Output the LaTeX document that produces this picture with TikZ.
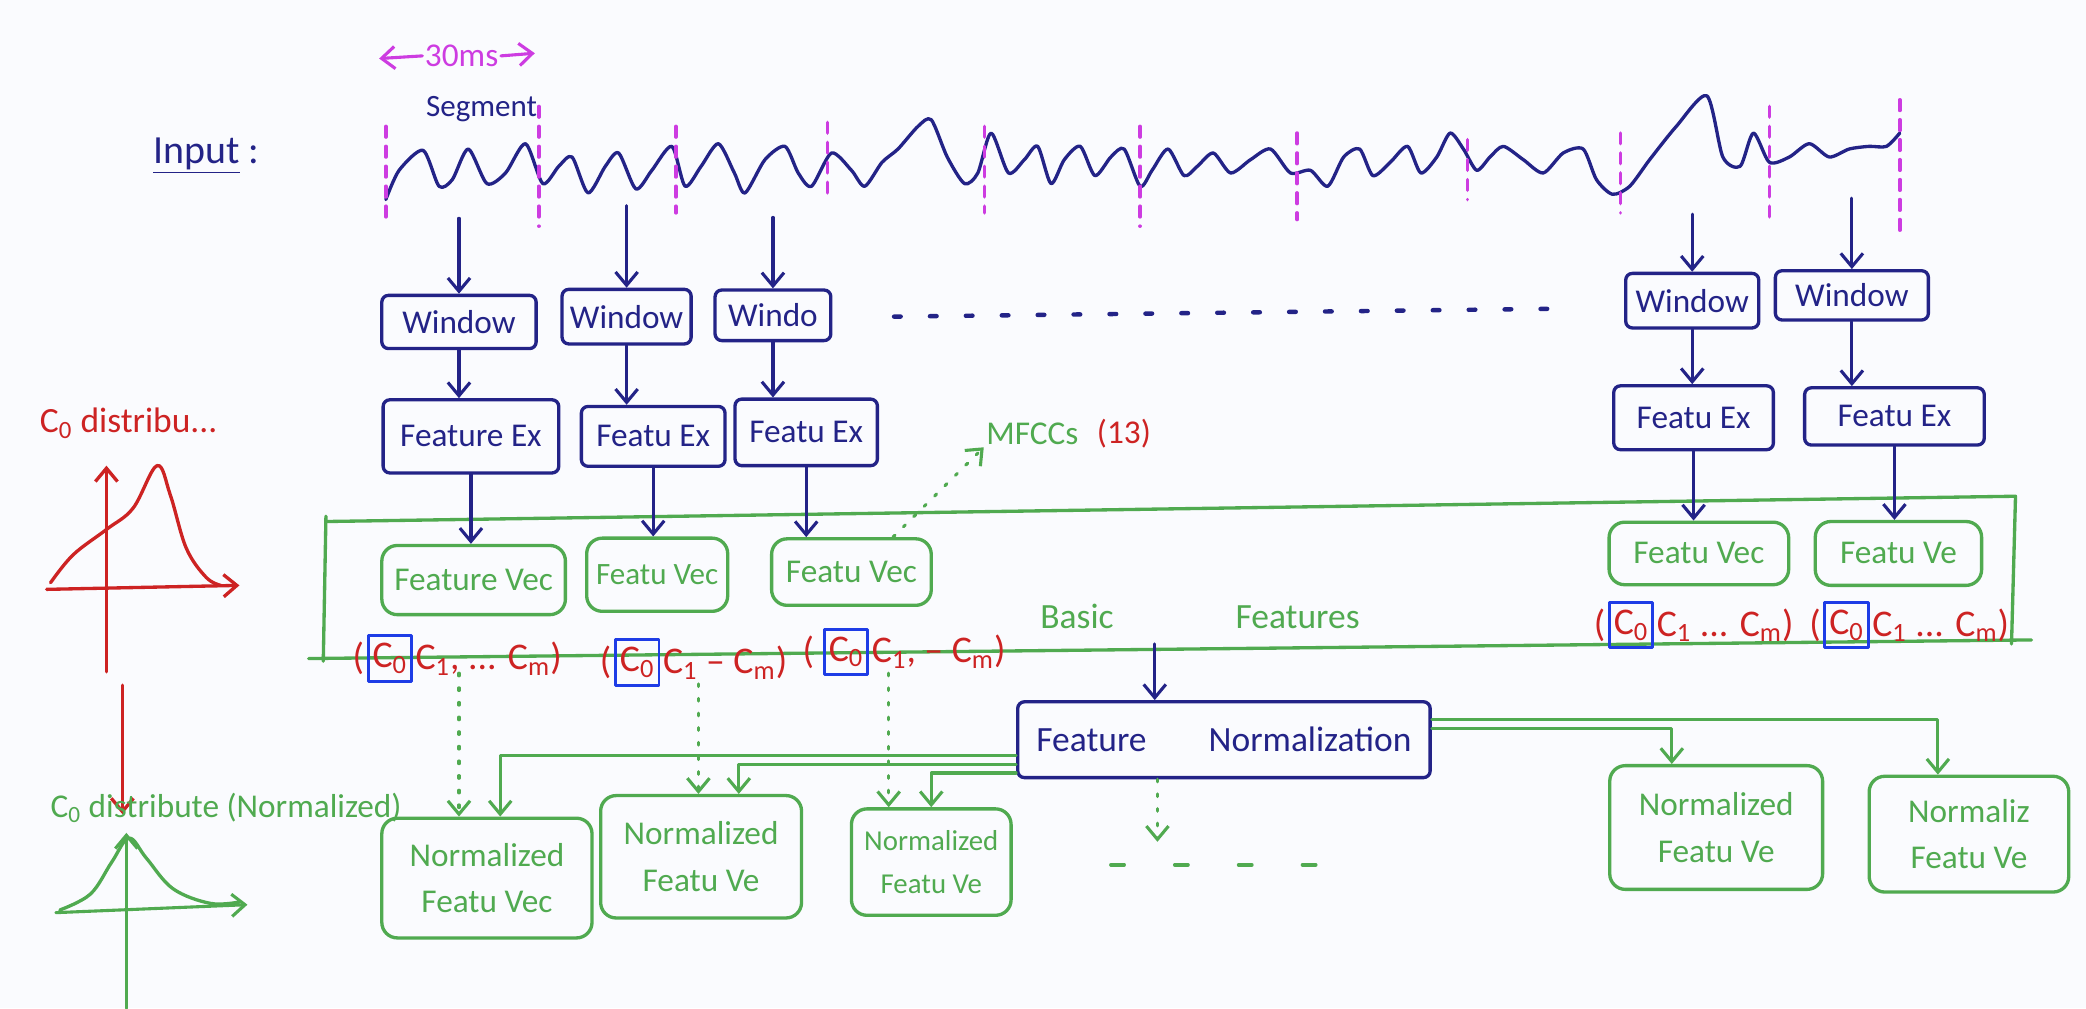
\documentclass[tikz,border=0pt]{standalone}
\usepackage{fontspec}
\setmainfont{Carlito}
\usetikzlibrary{arrows.meta}
\newdimen\pxu \pxu=0.6pt
\newcommand\hfs[1]{\fontsize{#1}{#1}\selectfont}
\definecolor{navy}{RGB}{35,35,135}
\definecolor{gcol}{RGB}{80,170,80}
\definecolor{rcol}{RGB}{205,35,35}
\definecolor{mcol}{RGB}{205,60,225}
\definecolor{bcol}{RGB}{30,60,230}
\definecolor{board}{RGB}{250,251,254}
\tikzset{
  sz/.style 2 args={minimum width=#1\pxu, minimum height=#2\pxu},
  nbox/.style={draw=navy, text=navy, line width=1.5pt, rounded corners=3pt, inner sep=0pt, font=\hfs{15}},
  gbox/.style={draw=gcol, text=gcol, line width=1.5pt, rounded corners=7pt, inner sep=0pt, align=center, font=\hfs{15}},
  tip/.style={-{Straight Barb[length=6pt,width=10pt]}},
  narrow/.style={tip, draw=navy, line width=1.4pt},
  garrow/.style={tip, draw=gcol, line width=1.4pt},
  rarrow/.style={tip, draw=rcol, line width=1.5pt},
  gdot/.style={garrow, dash pattern=on 2\pxu off 9\pxu},
  mdash/.style={draw=mcol, line width=1.6pt, dash pattern=on 8\pxu off 7\pxu},
  coef/.style={text=rcol, font=\hfs{17}, inner sep=1pt},
  c0box/.style={coef, draw=bcol, line width=1.3pt, inner sep=2pt, sz={26}{34}},
  ntext/.style={text=navy, inner sep=1pt},
  gtext/.style={text=gcol, inner sep=1pt},
  rtext/.style={text=rcol, inner sep=1pt}
}
\begin{document}
\begin{tikzpicture}[x=0.6pt, y=-0.6pt, line cap=round, line join=round]
\fill[board] (0,0) rectangle (1568,758);
\useasboundingbox (0,0) rectangle (1568,758);

% ---- title / input ----
\node[ntext, font=\hfs{18}] (input) at (155,117) {\underline{Input} :};
\node[ntext, font=\hfs{14}] (seg) at (362,82) {Segment};
\node[text=mcol, font=\hfs{15}, inner sep=1pt] (ms) at (347,42) {30ms};
\draw[tip, draw=mcol, line width=1.4pt] (ms.west) -- (285,44);
\draw[tip, draw=mcol, line width=1.4pt] (ms.east) -- (402,40);

% ---- waveform ----
\draw[navy, line width=1.5pt] plot[smooth, tension=0.45] coordinates {
(290,150) (300,128) (318,113) (330,140) (340,135) (352,112) (366,138) (380,130) (395,108) (408,138)
(420,125) (430,118) (442,145) (455,125) (465,115) (478,142) (490,128) (505,110) (515,140) (527,125)
(540,108) (552,130) (560,145) (575,120) (590,110) (600,130) (610,140) (625,115) (640,128) (650,140)
(663,122) (675,112) (690,95) (700,90) (712,118) (725,138) (735,130) (745,100) (758,130) (770,120)
(780,110) (790,138) (800,120) (812,110) (823,132) (835,118) (845,112) (857,140) (866,128) (878,112)
(890,132) (900,125) (912,115) (925,130) (940,120) (955,112) (970,130) (985,128) (998,140) (1010,118)
(1022,112) (1032,132) (1045,122) (1058,110) (1068,130) (1080,118) (1090,100) (1100,112) (1110,128) (1120,118)
(1130,110) (1145,120) (1160,130) (1175,115) (1190,112) (1200,135) (1212,146) (1225,140) (1240,120) (1260,95)
(1283,72) (1295,118) (1308,125) (1318,100) (1330,122) (1345,118) (1360,108) (1375,118) (1390,112) (1405,110)
(1418,110) (1428,100)};
\foreach \x/\a/\b in {290/95/165, 405/80/170, 508/95/160, 622/92/150, 740/95/160, 857/95/170,
  975/100/165, 1103/105/150, 1218/100/160, 1330/80/165, 1428/75/175}
  \draw[mdash] (\x,\a) -- (\x,\b);

% ---- windows ----
\node[nbox, sz={116}{40}] (w1) at (345,242) {Window};
\node[nbox, sz={97}{41}]  (w2) at (471,238) {Window};
\node[nbox, sz={87}{38}]  (w3) at (581,237) {Windo};
\node[nbox, sz={100}{41}] (w4) at (1272,226) {Window};
\node[nbox, sz={115}{37}] (w5) at (1392,222) {Window};
\draw[navy, line width=2pt, dash pattern=on 5\pxu off 22\pxu] (672,238) -- (1175,232);

\draw[narrow] ([yshift=34pt]w1.north) -- (w1.north);
\draw[narrow] ([yshift=37pt]w2.north) -- (w2.north);
\draw[narrow] ([yshift=32pt]w3.north) -- (w3.north);
\draw[narrow] ([yshift=26pt]w4.north) -- (w4.north);
\draw[narrow] ([yshift=32pt]w5.north) -- (w5.north);

% ---- feature extraction ----
\node[nbox, sz={132}{55}] (f1) at (354,328) {Feature Ex};
\node[nbox, sz={108}{45}] (f2) at (491,328) {Featu Ex};
\node[nbox, sz={107}{50}] (f3) at (606,325) {Featu Ex};
\node[nbox, sz={120}{48}] (f4) at (1273,314) {Featu Ex};
\node[nbox, sz={135}{43}] (f5) at (1424,313) {Featu Ex};
\foreach \i in {1,...,5} \draw[narrow] (w\i.south) -- (w\i.south |- f\i.north);

% ---- basic features block ----
\draw[gcol, line width=1.5pt] (245,392) -- (1515,373) -- (1512,484);
\draw[gcol, line width=1.5pt] (245,388) -- (243,497);
\draw[gcol, line width=1.5pt] (232,495) -- (1527,481);
\node[gtext, font=\hfs{16}] (basic) at (902,463) {Basic\hspace{55pt}Features};

\node[gbox, sz={138}{52}] (v1) at (356,436) {Feature Vec};
\node[gbox, sz={106}{55}, font=\hfs{14}] (v2) at (494,432) {Featu Vec};
\node[gbox, sz={120}{50}] (v3) at (640,430) {Featu Vec};
\node[gbox, sz={135}{47}] (v4) at (1277,416) {Featu Vec};
\node[gbox, sz={125}{48}] (v5) at (1427,416) {Featu Ve};
\foreach \i in {1,...,5} \draw[narrow] (f\i.south) -- (f\i.south |- v\i.north);

% ---- coefficients ----
\node[c0box] (cb1) at (293,495) {C\textsubscript{0}};
\node[coef, anchor=east] (co1) at (cb1.west) {(};
\node[coef, anchor=west] (cr1) at (cb1.east) {C\textsubscript{1}, ... C\textsubscript{m})};
\node[c0box] (cb2) at (479,498) {C\textsubscript{0}};
\node[coef, anchor=east] (co2) at (cb2.west) {(};
\node[coef, anchor=west] (cr2) at (cb2.east) {C\textsubscript{1} -- C\textsubscript{m})};
\node[c0box] (cb3) at (636,490) {C\textsubscript{0}};
\node[coef, anchor=east] (co3) at (cb3.west) {(\,};
\node[coef, anchor=west] (cr3) at (cb3.east) {C\textsubscript{1}, -- C\textsubscript{m})};
\node[c0box] (cb4) at (1226,470) {C\textsubscript{0}};
\node[coef, anchor=east] (co4) at (cb4.west) {(};
\node[coef, anchor=west] (cr4) at (cb4.east) {C\textsubscript{1} ... C\textsubscript{m})};
\node[c0box] (cb5) at (1388,470) {C\textsubscript{0}};
\node[coef, anchor=east] (co5) at (cb5.west) {(};
\node[coef, anchor=west] (cr5) at (cb5.east) {C\textsubscript{1} ... C\textsubscript{m})};

% ---- MFCCs ----
\node[gtext, font=\hfs{15}] (mf) at (776,326) {MFCCs};
\node[rtext, font=\hfs{15}, anchor=west] (thirteen) at ([xshift=6pt]mf.east) {(13)};
\draw[gdot] ([xshift=-18pt]v3.north east) -- (mf.south west);

% ---- feature normalization ----
\node[nbox, sz={310}{57}, font=\hfs{16}] (fn) at (920,556) {Feature\hspace{28pt}Normalization};
\coordinate (bb) at (868,484);
\draw[narrow] (bb) -- (bb |- fn.north);

\node[gbox, sz={158}{90}] (n1) at (366,660) {Normalized\\[6pt]Featu Vec};
\node[gbox, sz={151}{92}] (n2) at (527,644) {Normalized\\[6pt]Featu Ve};
\node[gbox, sz={120}{80}, font=\hfs{13}] (n3) at (700,648) {Normalized\\[6pt]Featu Ve};
\node[gbox, sz={160}{93}] (n4) at (1290,622) {Normalized\\[6pt]Featu Ve};
\node[gbox, sz={150}{87}] (n5) at (1480,627) {Normaliz\\[6pt]Featu Ve};

\coordinate (d1) at (345,506);
\coordinate (d2) at (525,514);
\coordinate (d3) at (668,506);
\draw[gdot] (d1) -- (d1 |- n1.north);
\draw[gdot] (d2) -- (d2 |- n2.north);
\draw[gdot] (d3) -- (d3 |- n3.north);

\draw[garrow] ([yshift=-7pt]fn.west) -| ([xshift=6pt]n1.north);
\draw[garrow] ([yshift=-11pt]fn.west) -| ([xshift=17pt]n2.north);
\draw[garrow] ([yshift=-15pt]fn.west) -| (n3.north);
\draw[garrow] ([yshift=9pt]fn.east) -| ([xshift=-14pt]n5.north);
\draw[garrow] ([yshift=5pt]fn.east) -| ([xshift=-20pt]n4.north);

\draw[gdot] ([xshift=-30pt]fn.south) -- ++(0,47);
\draw[gcol, line width=1.6pt, dash pattern=on 10\pxu off 38\pxu] (835,650) -- (1020,650);

% ---- distribution sketches ----
\node[rtext, font=\hfs{16}, anchor=west] (dist) at (28,318) {C\textsubscript{0} distribu...};
\draw[rarrow] (80,505) -- (80,350);
\draw[rarrow] (35,443) -- (180,440);
\draw[rcol, line width=1.5pt] plot[smooth, tension=0.6] coordinates {(38,438) (55,417) (80,398) (100,382) (118,350) (128,372) (140,412) (155,434) (166,440)};
\draw[rarrow] (92,515) -- (92,612);

\node[gtext, font=\hfs{15}, anchor=west] (ndist) at (36,607) {C\textsubscript{0} distribute (Normalized)};
\draw[garrow] (42,686) -- (186,680);
\draw[garrow] (95,758) -- (95,626);
\draw[gcol, line width=1.5pt] plot[smooth, tension=0.6] coordinates {(45,684) (68,672) (84,648) (97,630) (110,645) (130,668) (158,679) (180,678)};
\end{tikzpicture}
\end{document}
